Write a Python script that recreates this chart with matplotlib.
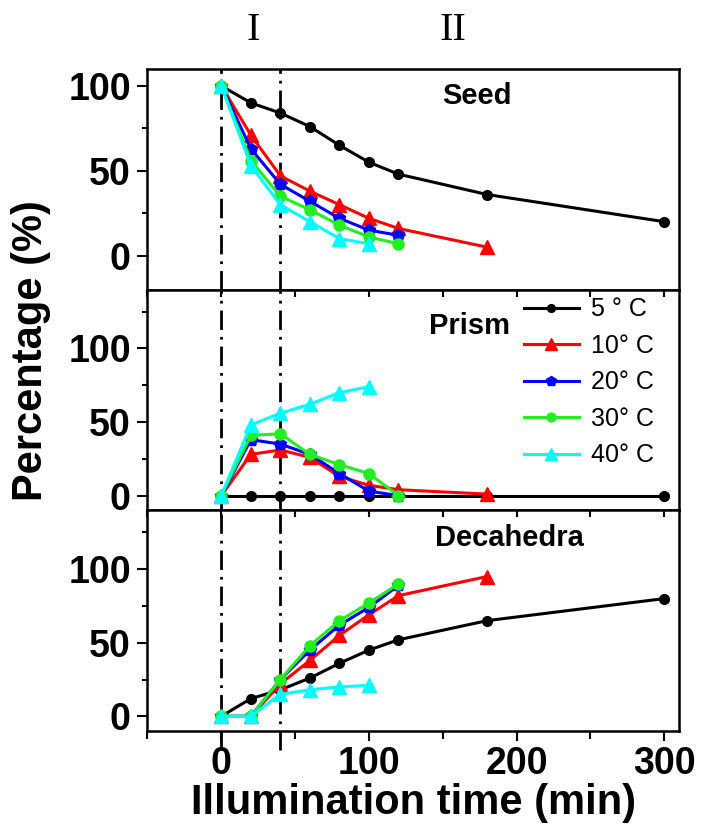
import numpy as np
import matplotlib
matplotlib.use('Agg')
import matplotlib.pyplot as plt
from matplotlib.ticker import MultipleLocator

# sampling times (min) for each temperature
t_5 = [0, 20, 40, 60, 80, 100, 120, 180, 300]
t_10 = [0, 20, 40, 60, 80, 100, 120, 180]
t_20 = [0, 20, 40, 60, 80, 100, 120]
t_30 = [0, 20, 40, 60, 80, 100, 120]
t_40 = [0, 20, 40, 60, 80, 100]

# seed fraction (%)
seed_5 = [100, 90, 84, 76, 65, 55, 48, 36, 20]
seed_10 = [100, 71, 47, 38, 30, 22, 16, 5]
seed_20 = [100, 63, 42, 32, 22, 15, 12]
seed_30 = [100, 56, 35, 27, 18, 11, 7]
seed_40 = [100, 53, 30, 20, 10, 7]

# prism fraction (%)
prism_5 = [0, 0, 0, 0, 0, 0, 0, 0, 0]
prism_10 = [0, 28, 31, 26, 13, 7, 4, 1]
prism_20 = [0, 38, 35, 28, 15, 3, 0]
prism_30 = [0, 41, 42, 28, 21, 15, 0]
prism_40 = [0, 48, 56, 62, 70, 74]

# decahedra fraction (%)
deca_5 = [0, 12, 18, 26, 36, 45, 52, 65, 80]
deca_10 = [0, 0, 22, 38, 55, 69, 82, 95]
deca_20 = [0, 0, 25, 45, 62, 74, 89]
deca_30 = [0, 0, 25, 48, 65, 77, 90]
deca_40 = [0, 0, 15, 18, 20, 21]

labels = ['5 ° C', '10° C', '20° C', '30° C', '40° C']
colors = ['black', '#ff0000', '#0000ff', '#22ee22', '#00ffff']
markers = ['o', '^', 'p', 'o', '^']
msizes = [7, 10, 9, 8, 10]
times = [t_5, t_10, t_20, t_30, t_40]

panels = [
    ('Seed', [seed_5, seed_10, seed_20, seed_30, seed_40], (-20, 110), (173, 94)),
    ('Prism', [prism_5, prism_10, prism_20, prism_30, prism_40], (-10, 140), (168, 115)),
    ('Decahedra', [deca_5, deca_10, deca_20, deca_30, deca_40], (-10, 140), (195, 121)),
]

plt.rcParams['font.family'] = ['Liberation Sans', 'DejaVu Sans']

fig = plt.figure(figsize=(7.01, 8.26), dpi=100)
left, width, height = 0.2104, 0.7582, 0.2672
bottoms = [0.6494, 0.3822, 0.1150]

axes = []
for i, (name, series, ylim, tpos) in enumerate(panels):
    ax = fig.add_axes([left, bottoms[i], width, height])
    axes.append(ax)
    for t, y, c, m, ms, lab in zip(times, series, colors, markers, msizes, labels):
        ax.plot(t, y, color=c, marker=m, markersize=ms, linewidth=2.2,
                markeredgecolor=c, label=lab)
    ax.set_xlim(-50, 310)
    ax.set_ylim(*ylim)
    ax.text(tpos[0], tpos[1], name, ha='center', va='center',
            fontsize=21, fontweight='bold')

    # dash-dot markers separating stage I and stage II
    ymin = -0.086 if i == 2 else 0
    for xv in (0, 40):
        ax.axvline(xv, ymin=ymin, ymax=1, color='black', linewidth=2,
                   linestyle=(0, (7, 2.5, 1, 2.5)), clip_on=False, zorder=1)

    for s in ax.spines.values():
        s.set_linewidth(1.8)
    ax.yaxis.set_major_locator(MultipleLocator(50))
    ax.yaxis.set_minor_locator(MultipleLocator(25))
    ax.tick_params(axis='y', which='major', direction='out', length=7,
                   width=1.5, labelsize=27, pad=5)
    ax.tick_params(axis='y', which='minor', direction='out', length=3.6,
                   width=1.5)
    for lab in ax.get_yticklabels():
        lab.set_fontweight('bold')

    ax.xaxis.set_major_locator(MultipleLocator(100))
    ax.xaxis.set_minor_locator(MultipleLocator(50))
    if i == 2:
        ax.tick_params(axis='x', which='both', direction='out', width=1.5,
                       labelsize=27, pad=4)
        ax.tick_params(axis='x', which='major', length=7)
        ax.tick_params(axis='x', which='minor', length=6)
        for lab in ax.get_xticklabels():
            lab.set_fontweight('bold')
    else:
        ax.tick_params(axis='x', which='both', bottom=False, labelbottom=False)
    if i > 0:
        ax.tick_params(axis='x', which='both', top=True)
        # top ticks point into the panel
        for tk in ax.xaxis.get_major_ticks() + ax.xaxis.get_minor_ticks():
            tk.tick2line.set_marker(matplotlib.lines.TICKDOWN)
            tk.tick2line.set_markersize(5)
            tk.tick2line.set_markeredgewidth(1.5)

axes[1].legend(loc='upper left', bbox_to_anchor=(0.708, 0.965), frameon=False,
               fontsize=18, handlelength=2.2, handletextpad=0.5,
               labelspacing=0.5, borderpad=0, borderaxespad=0,
               markerscale=0.8)

fig.text(31 / 701, 1 - 351 / 826, 'Percentage (%)', rotation=90,
         ha='center', va='center', fontsize=30, fontweight='bold')
fig.text(0.5 * (147.5 + 679) / 701, 1 - 803 / 826, 'Illumination time (min)',
         ha='center', va='center', fontsize=30, fontweight='bold')

# stage labels above the plot
fig.text(253 / 701, 1 - 30 / 826, 'I', ha='center', va='center',
         fontsize=29, family=['Liberation Serif', 'DejaVu Serif'])
fig.text(453 / 701, 1 - 30 / 826, 'II', ha='center', va='center',
         fontsize=29, family=['Liberation Serif', 'DejaVu Serif'])

fig.savefig('out.png', dpi=100)
